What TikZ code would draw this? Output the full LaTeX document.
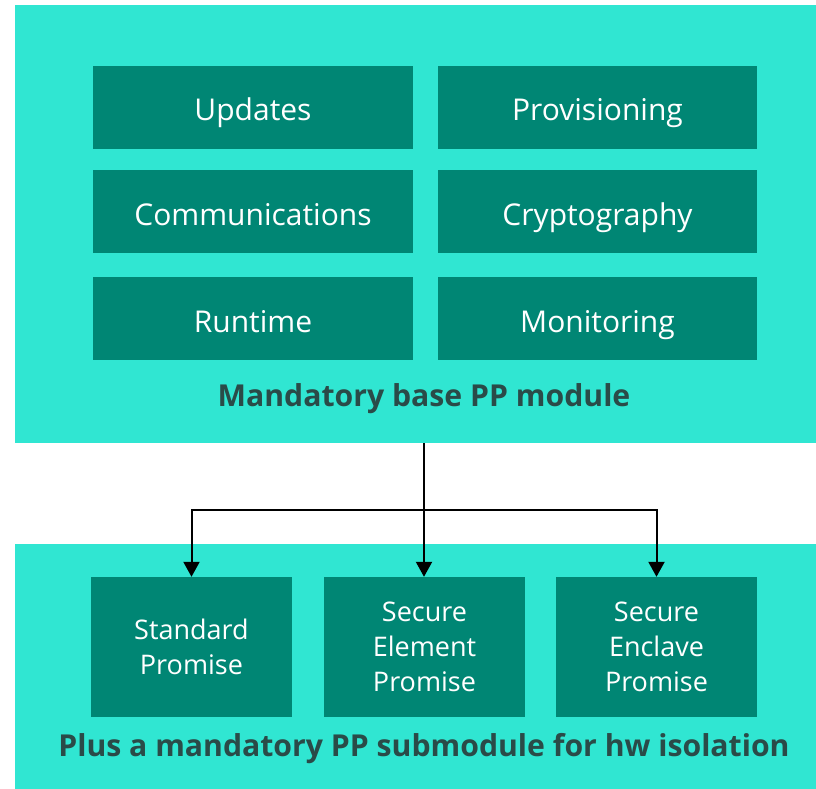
\documentclass[tikz,border=0pt]{standalone}
\usepackage{fontspec}
\setmainfont{Open Sans}
\usetikzlibrary{arrows.meta}
\definecolor{panel}{RGB}{48,230,210}
\definecolor{tile}{RGB}{0,134,116}
\definecolor{caption}{RGB}{42,75,72}
\tikzset{
  panelbox/.style={fill=panel, draw=none, inner sep=0pt},
  tilebox/.style={fill=tile, draw=none, inner sep=0pt, text=white, align=center},
  wide/.style={tilebox, font=\fontsize{30}{35}\selectfont,
    minimum width=320pt, minimum height=83pt, text height=30pt, text depth=3pt},
  tall/.style={tilebox, font=\fontsize{27}{35}\selectfont,
    minimum width=201pt, minimum height=140pt, execute at begin node={\vspace*{4pt}}},
  captiontext/.style={text=caption, font=\fontsize{30.2}{35}\selectfont\bfseries,
    inner sep=0pt, anchor=base},
  link/.style={draw=black, line width=2pt},
  arrowlink/.style={link, -{Triangle[width=16pt,length=15pt]}}
}
\begin{document}
\begin{tikzpicture}[x=1pt, y=-1pt]
\useasboundingbox (0,0) rectangle (816,789);
% outer panels
\node[panelbox, minimum width=801pt, minimum height=438pt] (base) at (415.5,224) {};
\node[panelbox, minimum width=801pt, minimum height=245pt] (sub) at (415.5,666.5) {};
% base module tiles
\node[wide] (updates) at (253,107.5) {Updates};
\node[wide, minimum width=319pt] (prov) at (597.5,107.5) {Provisioning};
\node[wide] (comm) at (253,211.5) {Communications};
\node[wide, minimum width=319pt] (crypto) at (597.5,211.5) {Cryptography};
\node[wide] (runtime) at (253,318.5) {Runtime};
\node[wide, minimum width=319pt] (monitor) at (597.5,318.5) {Monitoring};
\node[captiontext] (basecap) at (424,406) {Mandatory base PP module};
% submodule tiles
\node[tall] (standard) at (191.5,647) {Standard\\Promise};
\node[tall] (element) at (424.5,647) {Secure\\Element\\Promise};
\node[tall] (enclave) at (656.5,647) {Secure\\Enclave\\Promise};
\node[captiontext] (subcap) at (424,756) {Plus a mandatory PP submodule for hw isolation};
% connectors
\coordinate (split) at (424,510);
\draw[link] (424,443) coordinate (top) -- (split);
\draw[arrowlink] (split) -- (element.north -| split);
\draw[arrowlink] (split) -| (standard.north);
\draw[arrowlink] (split) -| (enclave.north);
\end{tikzpicture}
\end{document}
